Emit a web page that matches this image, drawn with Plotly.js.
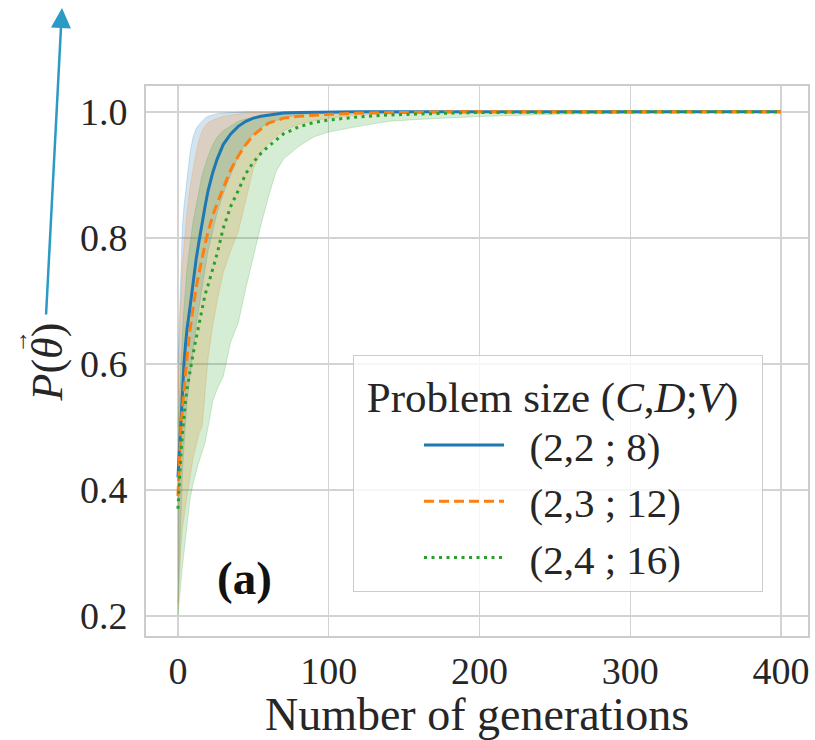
<!DOCTYPE html>
<html>
<head>
<meta charset="utf-8">
<script src="https://cdn.plot.ly/plotly-3.0.1.min.js"></script>
<style>html,body{margin:0;padding:0;background:#fff;}#chart{width:815px;height:740px;}</style>
</head>
<body>
<div id="chart"></div>
<script>
// generations
const generations = [0,1,2,3,4,5,6,8,10,12,14,16,18,20,23,26,30,35,40,45,50,55,60,65,70,80,90,100,120,140,160,180,200,250,300,350,400];

// (2,2 ; 8)
const mean22 = [0.42,0.47,0.52,0.56,0.60,0.63,0.655,0.69,0.73,0.765,0.795,0.825,0.85,0.875,0.903,0.925,0.948,0.965,0.977,0.985,0.99,0.993,0.995,0.997,0.998,0.999,0.9995,1,1,1,1,1,1,1,1,1,1];
const upper22 = [0.60,0.68,0.76,0.82,0.85,0.87,0.89,0.935,0.96,0.973,0.98,0.985,0.99,0.993,0.995,0.997,0.998,0.999,1,1,1,1,1,1,1,1,1,1,1,1,1,1,1,1,1,1,1];
const lower22 = [0.22,0.30,0.37,0.43,0.47,0.51,0.54,0.58,0.62,0.66,0.69,0.72,0.75,0.78,0.81,0.84,0.87,0.90,0.93,0.95,0.965,0.975,0.982,0.986,0.99,0.995,0.998,0.999,1,1,1,1,1,1,1,1,1];

// (2,3 ; 12)
const mean23 = [0.39,0.45,0.50,0.53,0.56,0.585,0.61,0.655,0.69,0.72,0.745,0.77,0.79,0.81,0.835,0.855,0.88,0.908,0.93,0.948,0.963,0.973,0.982,0.986,0.99,0.993,0.995,0.996,0.998,0.999,0.9995,1,1,1,1,1,1];
const upper23 = [0.55,0.64,0.71,0.76,0.79,0.81,0.84,0.88,0.91,0.935,0.955,0.97,0.978,0.983,0.987,0.99,0.993,0.995,0.997,0.998,0.999,0.9995,1,1,1,1,1,1,1,1,1,1,1,1,1,1,1];
const lower23 = [0.21,0.27,0.31,0.34,0.36,0.38,0.39,0.42,0.45,0.47,0.49,0.50,0.56,0.61,0.66,0.70,0.745,0.78,0.81,0.86,0.91,0.935,0.95,0.96,0.97,0.98,0.986,0.99,0.995,0.997,0.998,0.999,1,1,1,1,1];

// (2,4 ; 16)
const mean24 = [0.37,0.42,0.46,0.49,0.52,0.54,0.56,0.59,0.615,0.64,0.665,0.69,0.71,0.725,0.75,0.775,0.815,0.85,0.875,0.902,0.92,0.934,0.945,0.955,0.965,0.976,0.983,0.987,0.992,0.995,0.997,0.998,0.999,1,1,1,1];
const upper24 = [0.50,0.56,0.61,0.65,0.69,0.72,0.75,0.79,0.825,0.85,0.875,0.90,0.915,0.93,0.947,0.96,0.97,0.978,0.985,0.989,0.991,0.994,0.996,0.997,0.998,0.999,1,1,1,1,1,1,1,1,1,1,1];
const lower24 = [0.20,0.23,0.255,0.28,0.30,0.32,0.345,0.385,0.41,0.43,0.445,0.46,0.475,0.50,0.54,0.56,0.58,0.635,0.665,0.72,0.77,0.82,0.865,0.905,0.925,0.945,0.96,0.968,0.977,0.985,0.988,0.99,0.9925,0.996,0.998,0.999,1];

const seriesNames = ['(2,2 ; 8)','(2,3 ; 12)','(2,4 ; 16)'];
const xTicks = [0,100,200,300,400];
const yTicks = [0.2,0.4,0.6,0.8,1.0];

const colors = ['rgb(31,119,180)','rgb(255,127,14)','rgb(44,160,44)'];
const bandColors = ['rgba(31,119,180,0.2)','rgba(255,127,14,0.2)','rgba(44,160,44,0.2)'];
const dashes = ['solid','10px,5px','3px,4.5px'];
const means = [mean22, mean23, mean24];
const uppers = [upper22, upper23, upper24];
const lowers = [lower22, lower23, lower24];
const NB = '\u00a0';

const traces = [];
for (let i = 0; i < 3; i++) {
  traces.push({x: generations, y: lowers[i], mode: 'lines', line: {width: 1, color: bandColors[i]}, showlegend: false, hoverinfo: 'skip'});
  traces.push({x: generations, y: uppers[i], mode: 'lines', fill: 'tonexty', fillcolor: bandColors[i], line: {width: 1, color: bandColors[i]}, showlegend: false, hoverinfo: 'skip'});
}
for (let i = 0; i < 3; i++) {
  traces.push({x: generations, y: means[i], mode: 'lines', name: NB + NB + seriesNames[i], line: {width: 3, color: colors[i], dash: dashes[i]}});
}

const FONT = 'Liberation Serif, Times New Roman, serif';
const layout = {
  width: 815, height: 740,
  margin: {l: 146, r: 7, t: 86, b: 104},
  paper_bgcolor: '#fff', plot_bgcolor: '#fff',
  font: {family: FONT, color: '#262626', size: 38},
  xaxis: {
    range: [-21.2, 417.9], tickvals: xTicks, ticktext: xTicks.map(String),
    showgrid: true, gridcolor: '#d3d3d3', gridwidth: 1.5, zeroline: false,
    showline: true, mirror: true, linecolor: '#cccccc', linewidth: 2,
    ticks: '',
    tickfont: {family: FONT, size: 38, color: '#262626'},
    title: {text: 'Number of generations', font: {family: FONT, size: 46, color: '#262626'}, standoff: 7}
  },
  yaxis: {
    range: [0.168, 1.041], tickvals: yTicks, ticktext: yTicks.map(v => v.toFixed(1)),
    showgrid: true, gridcolor: '#d3d3d3', gridwidth: 1.5, zeroline: false,
    showline: true, mirror: true, linecolor: '#cccccc', linewidth: 2,
    ticks: 'outside', ticklen: 9, tickcolor: 'rgba(0,0,0,0)',
    tickfont: {family: FONT, size: 38, color: '#262626'}
  },
  legend: {
    x: 0.3127, y: 0.511, xanchor: 'left', yanchor: 'top',
    bgcolor: 'rgba(255,255,255,0.8)', bordercolor: '#cccccc', borderwidth: 1,
    font: {family: FONT, size: 41, color: '#262626'},
    title: {text: NB + 'Problem size (<i>C</i>,<i>D</i>;<i>V</i>)' + NB + NB, font: {family: FONT, size: 43, color: '#262626'}},
    itemwidth: 80, tracegroupgap: 0, traceorder: 'normal', indentation: 65
  },
  annotations: [
    {text: '<b>(a)</b>', x: 44, y: 0.26, xref: 'x', yref: 'y', showarrow: false,
     font: {family: FONT, size: 47, color: '#111'}},
    {text: '<i>P</i>(<i>θ</i>)', x: -0.149, y: 0.498, xref: 'paper', yref: 'paper', textangle: -90,
     xanchor: 'center', yanchor: 'middle', showarrow: false, font: {family: FONT, size: 44, color: '#262626'}},
    {text: '→', x: -0.192, y: 0.535, xref: 'paper', yref: 'paper', textangle: -90,
     xanchor: 'center', yanchor: 'middle', showarrow: false, font: {family: FONT, size: 24, color: '#262626'}},
    {text: '', x: -0.1269, y: 1.1418, xref: 'paper', yref: 'paper', showarrow: true,
     ax: -16, ay: 308, arrowhead: 2, arrowsize: 1.6, arrowwidth: 2.5, arrowcolor: '#2b9ac4', standoff: 0, startstandoff: 0}
  ]
};

Plotly.newPlot('chart', traces, layout, {staticPlot: true, displayModeBar: false});
</script>
</body>
</html>
